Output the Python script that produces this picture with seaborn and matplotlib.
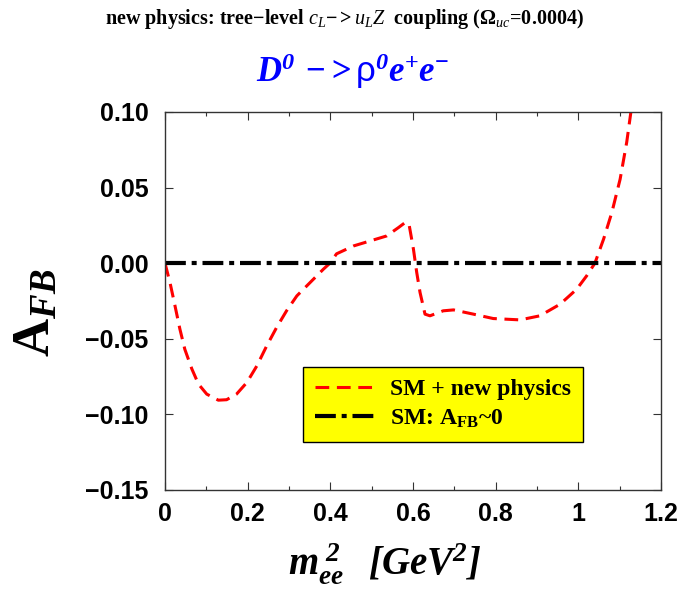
import matplotlib
matplotlib.use("Agg")
import matplotlib.pyplot as plt
import seaborn as sns
import pandas as pd
from matplotlib.ticker import MultipleLocator

# === Curve (SM + new physics)
m2 = [0.0, 0.012, 0.024, 0.036, 0.048, 0.065, 0.081, 0.101, 0.129, 0.149,
      0.173, 0.198, 0.222, 0.246, 0.270, 0.294, 0.319, 0.351, 0.383, 0.399,
      0.415, 0.456, 0.496, 0.536, 0.565, 0.583, 0.591, 0.601, 0.609, 0.617,
      0.629, 0.641, 0.673, 0.698, 0.746, 0.794, 0.859, 0.907, 0.956, 0.996,
      1.020, 1.040, 1.061, 1.081, 1.101, 1.117, 1.127]
afb_np = [0.0, -0.0128, -0.028, -0.0436, -0.057, -0.070, -0.080, -0.0866,
          -0.0906, -0.0903, -0.0866, -0.0789, -0.068, -0.0547, -0.0425, -0.0315,
          -0.0216, -0.0128, -0.004, 0.0, 0.0062, 0.0114, 0.0147, 0.018, 0.0236,
          0.0273, 0.0247, 0.0093, -0.0062, -0.0194, -0.0337, -0.0348, -0.0315,
          -0.0309, -0.0337, -0.0366, -0.0375, -0.0348, -0.0271, -0.0172,
          -0.0084, 0.0, 0.0159, 0.0335, 0.0555, 0.080, 0.0998]

# === SM line: A_FB ~ 0
m2_sm = [0.0, 1.2]
afb_sm = [0.0, 0.0]

xticks = [0, 0.2, 0.4, 0.6, 0.8, 1.0, 1.2]
xticklabels = ["0", "0.2", "0.4", "0.6", "0.8", "1", "1.2"]
yticks = [-0.15, -0.10, -0.05, 0.00, 0.05, 0.10]
yticklabels = ["\u22120.15", "\u22120.10", "\u22120.05", "0.00", "0.05", "0.10"]

df_np = pd.DataFrame({"m2": m2, "afb": afb_np})
df_sm = pd.DataFrame({"m2": m2_sm, "afb": afb_sm})

sns.set_style("ticks")
plt.rcParams["text.color"] = "black"
plt.rcParams["mathtext.fontset"] = "custom"
plt.rcParams["mathtext.rm"] = "Liberation Serif:bold"
plt.rcParams["mathtext.it"] = "Liberation Serif:italic"
plt.rcParams["mathtext.bf"] = "Liberation Serif:bold:italic"

fig = plt.figure(figsize=(6.85, 5.9), dpi=100)
ax = fig.add_axes([0.2409, 0.1695, 0.7241, 0.6407])

sns.lineplot(data=df_np, x="m2", y="afb", ax=ax, color="#ff0000", lw=2.2,
             label="SM + new physics")
ax.lines[-1].set_dashes([4.5, 2.5])
sns.lineplot(data=df_sm, x="m2", y="afb", ax=ax, color="black", lw=3.0,
             label=r"SM: A$_{\mathrm{FB}}$~0")
ax.lines[-1].set_dashes([5, 1.4, 1.2, 1.4])

ax.set_xlim(0, 1.2)
ax.set_ylim(-0.15, 0.10)
ax.set_xticks(xticks)
ax.set_xticklabels(xticklabels)
ax.set_yticks(yticks)
ax.set_yticklabels(yticklabels)
ax.xaxis.set_minor_locator(MultipleLocator(0.1))
ax.tick_params(which="both", direction="in", top=True, right=True, width=0.8,
               color="#333333", labelcolor="black")
ax.tick_params(which="major", length=6)
ax.tick_params(which="minor", length=3)
for lab in ax.get_xticklabels() + ax.get_yticklabels():
    lab.set_fontfamily("Liberation Sans")
    lab.set_fontweight("bold")
    lab.set_fontsize(18)
ax.tick_params(axis="x", pad=9)
ax.tick_params(axis="y", pad=12)
for sp in ax.spines.values():
    sp.set_linewidth(1.0)
    sp.set_color("#333333")
ax.set_xlabel("")
ax.set_ylabel("")

leg = ax.legend(loc="upper left", bbox_to_anchor=(0.278, 0.325), frameon=True,
                fancybox=False, facecolor="#ffff00", edgecolor="black",
                framealpha=1.0, handlelength=2.6, handletextpad=0.6,
                borderpad=0.5, labelspacing=0.3, borderaxespad=0.0,
                prop={"family": "Liberation Serif", "weight": "bold", "size": 17})
leg.get_frame().set_linewidth(1.0)

# === Titles and axis labels
fig.text(0.503, 0.968,
         r"new physics: tree$-$level $c_{L}{-}{>}u_{L}Z$  coupling ($\Omega_{\mathit{uc}}$=$\mathit{0.0004}$)",
         ha="center", va="center", fontsize=14.5, fontweight="bold",
         family="Liberation Serif", color="black")
fig.text(0.515, 0.88,
         r"$\mathbf{D}^{\mathbf{0}}$ $\mathbf{->}$ρ$^{\mathbf{0}}\mathbf{e}^{+}\mathbf{e}^{-}$",
         ha="center", va="center", fontsize=25, color="#0000ff",
         family="Liberation Sans")
fig.text(0.053, 0.469, r"A$_{\mathbf{FB}}$", ha="center", va="center",
         rotation=90, fontsize=38, fontweight="bold", family="Liberation Serif",
         color="black")
fig.text(0.562, 0.045, r"$\mathbf{m}_{\mathbf{ee}}^{\ \mathbf{2}}$  $\mathbf{[GeV}^{\mathbf{2}}\mathbf{]}$",
         ha="center", va="center", fontsize=28, color="black")

fig.savefig("out.png", dpi=100)
